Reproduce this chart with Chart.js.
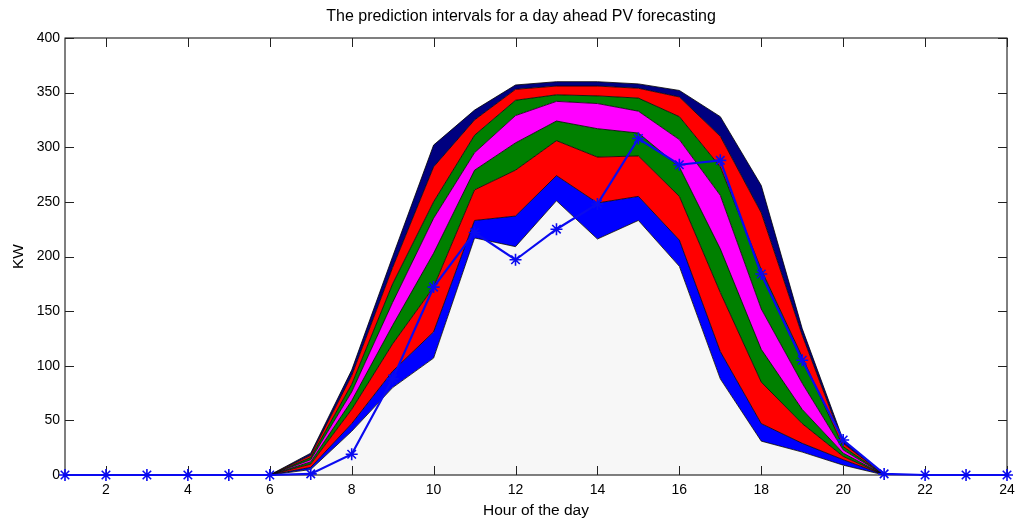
<!DOCTYPE html>
<html>
<head>
<meta charset="utf-8">
<title>PV prediction intervals</title>
<script src="https://cdn.jsdelivr.net/npm/chart.js@4.4.1/dist/chart.umd.min.js"></script>
<style>
  html, body { margin: 0; padding: 0; background: #fff; }
  #wrap { width: 1015px; height: 520px; position: relative; }
</style>
</head>
<body>
<div id="wrap"><canvas id="pvChart"></canvas></div>
<script>
// hour of the day
const hours = [1, 2, 3, 4, 5, 6, 7, 8, 9, 10, 11, 12, 13, 14, 15, 16, 17, 18, 19, 20, 21, 22, 23, 24];

// measured PV output (KW)
const actual = [0, 0, 0, 0, 0, 0, 1, 19, 88, 172, 222, 197, 225, 248, 308, 284, 288, 184, 105, 32, 1, 0, 0, 0];

// interval boundaries, from the lowest to the highest
const bound0 = [0, 0, 0, 0, 0, 0, 5, 40, 80, 107, 217, 209, 251, 216, 233, 191, 88, 31, 21, 9, 0, 0, 0, 0];
const bound1 = [0, 0, 0, 0, 0, 0, 7, 47, 95, 131, 233, 237, 274, 249, 255, 215, 113, 47, 29, 14, 0, 0, 0, 0];
const bound2 = [0, 0, 0, 0, 0, 0, 10, 60, 120, 172, 261, 279, 306, 291, 292, 255, 167, 85, 47, 17, 0, 0, 0, 0];
const bound3 = [0, 0, 0, 0, 0, 0, 12, 68, 137, 203, 279, 304, 324, 317, 313, 282, 207, 115, 60, 20, 0, 0, 0, 0];
const bound4 = [0, 0, 0, 0, 0, 0, 14, 76, 158, 235, 295, 329, 342, 340, 333, 307, 256, 152, 84, 23, 0, 0, 0, 0];
const bound5 = [0, 0, 0, 0, 0, 0, 16, 83, 175, 250, 311, 343, 348, 347, 345, 328, 282, 188, 108, 26, 0, 0, 0, 0];
const bound6 = [0, 0, 0, 0, 0, 0, 18, 91, 190, 282, 325, 353, 356, 356, 354, 346, 310, 240, 128, 29, 0, 0, 0, 0];
const bound7 = [0, 0, 0, 0, 0, 0, 20, 96, 200, 302, 334, 357, 360, 360, 358, 352, 328, 265, 134, 32, 0, 0, 0, 0];

const yTicks = [0, 50, 100, 150, 200, 250, 300, 350, 400];
const xTicks = [2, 4, 6, 8, 10, 12, 14, 16, 18, 20, 22, 24];

const FONT = "'Liberation Sans', Arial, sans-serif";

const bounds = [bound0, bound1, bound2, bound3, bound4, bound5, bound6, bound7];
const fills = ['#f7f7f7', '#0000ff', '#ff0000', '#008000', '#ff00ff', '#008000', '#ff0000', '#000080'];

const bandSets = bounds.map((b, i) => ({
    label: 'bound ' + i,
    data: b,
    borderColor: '#000',
    borderWidth: 0.8,
    backgroundColor: fills[i],
    fill: i === 0 ? 'origin' : '-1',
    pointRadius: 0,
    tension: 0,
    order: 1
}));

// box round the plot, with inward tick marks on all four sides
const axesBox = {
    id: 'axesBox',
    beforeDatasetDraw(chart, args) {
        if (args.index !== 0) return;
        const { ctx, chartArea: a, scales } = chart;
        const len = 9;
        ctx.save();
        ctx.strokeStyle = '#000';
        ctx.lineWidth = 1;
        ctx.strokeRect(a.left, a.top, a.right - a.left, a.bottom - a.top);
        ctx.strokeStyle = '#222';
        ctx.beginPath();
        xTicks.forEach(h => {
            const x = Math.round(scales.x.getPixelForValue(hours.indexOf(h))) + 0.5;
            ctx.moveTo(x, a.bottom); ctx.lineTo(x, a.bottom - len);
            ctx.moveTo(x, a.top); ctx.lineTo(x, a.top + len);
        });
        yTicks.forEach(v => {
            const y = Math.round(scales.y.getPixelForValue(v)) + 0.5;
            ctx.moveTo(a.left, y); ctx.lineTo(a.left + len, y);
            ctx.moveTo(a.right, y); ctx.lineTo(a.right - len, y);
        });
        ctx.stroke();
        ctx.restore();
    },
    afterDraw(chart) {
        const { ctx } = chart;
        ctx.save();
        ctx.fillStyle = '#000';
        ctx.font = '16px ' + FONT;
        ctx.textAlign = 'center';
        ctx.textBaseline = 'middle';
        ctx.fillText('The prediction intervals for a day ahead PV forecasting', 521, 17);
        ctx.restore();
    }
};

new Chart(document.getElementById('pvChart'), {
    type: 'line',
    data: {
        labels: hours,
        datasets: [{
            label: 'actual',
            data: actual,
            borderColor: '#0a0af0',
            borderWidth: 2.2,
            pointStyle: 'star',
            pointRadius: 6,
            pointBorderColor: '#0a0af0',
            pointBorderWidth: 1.6,
            pointBackgroundColor: '#0a0af0',
            fill: false,
            tension: 0,
            clip: false,
            order: 0
        }, ...bandSets]
    },
    options: {
        responsive: true,
        maintainAspectRatio: false,
        animation: false,
        layout: { padding: { top: 38, right: 8, left: 0, bottom: 0 } },
        plugins: {
            legend: { display: false },
            tooltip: { enabled: false },
            title: { display: false }
        },
        scales: {
            x: {
                type: 'category',
                offset: false,
                grid: { display: false, drawTicks: false },
                border: { display: false },
                ticks: {
                    autoSkip: false,
                    maxRotation: 0,
                    padding: 7,
                    color: '#000',
                    font: { family: FONT, size: 14 },
                    callback: (v, i) => xTicks.includes(hours[i]) ? String(hours[i]) : ''
                },
                title: {
                    display: true,
                    text: 'Hour of the day',
                    color: '#000',
                    font: { family: FONT, size: 15.5 },
                    padding: { top: 0, bottom: 0 }
                },
                afterFit(scale) {
                    scale.height = 45;
                    scale.paddingLeft = 0;
                    scale.paddingRight = 0;
                }
            },
            y: {
                min: 0,
                max: 400,
                grid: { display: false, drawTicks: false },
                border: { display: false },
                ticks: {
                    stepSize: 50,
                    padding: 5,
                    color: '#000',
                    font: { family: FONT, size: 14 }
                },
                title: {
                    display: true,
                    text: 'KW',
                    color: '#000',
                    font: { family: FONT, size: 15.5 },
                    padding: { top: 9, bottom: 0 }
                },
                afterFit(scale) { scale.width = 65; }
            }
        }
    },
    plugins: [axesBox]
});
</script>
</body>
</html>
